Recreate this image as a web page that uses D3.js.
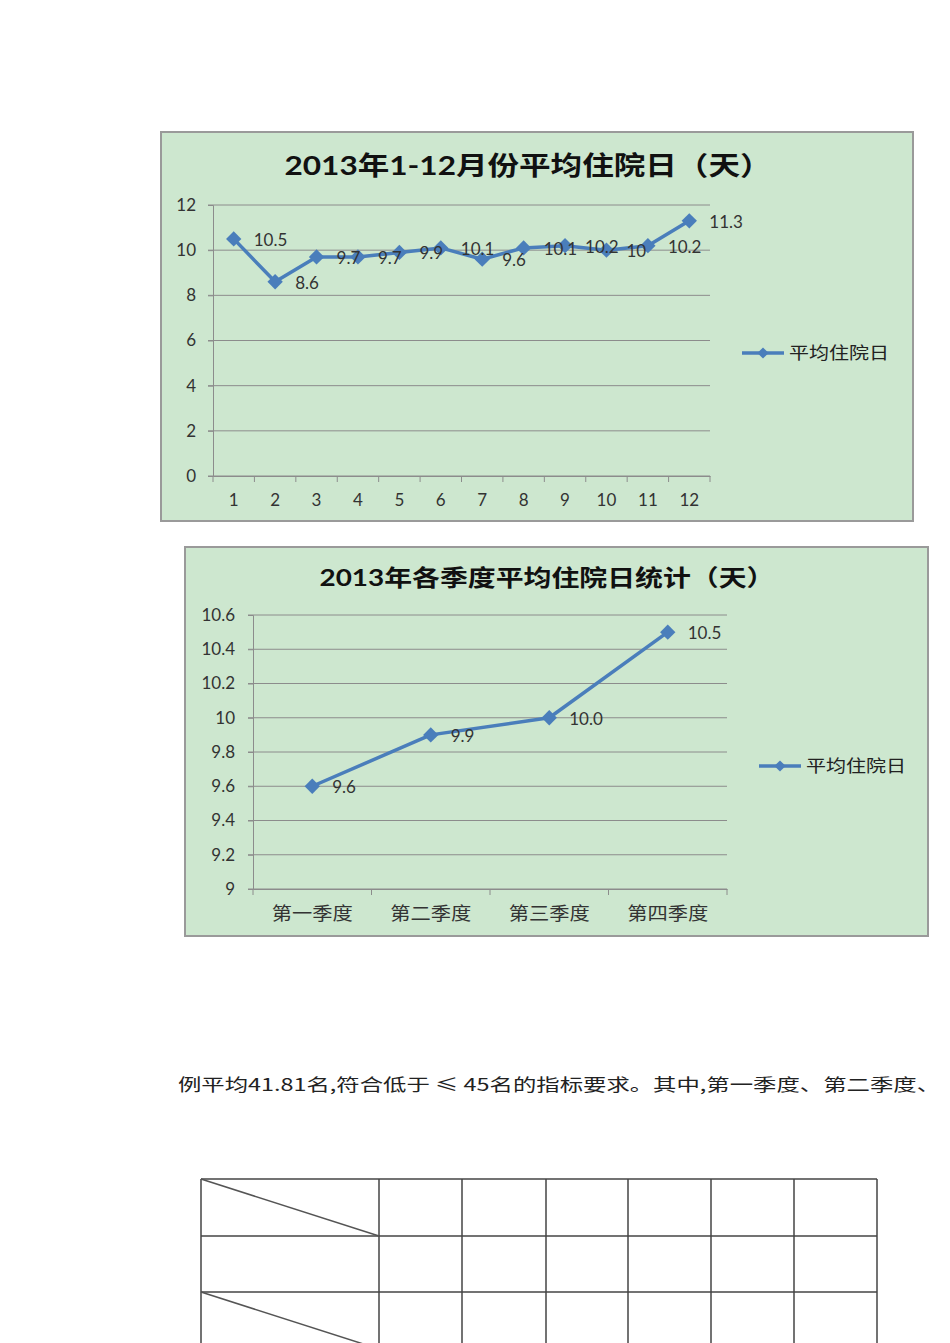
<!DOCTYPE html>
<html><head><meta charset="utf-8">
<script src="https://cdn.jsdelivr.net/npm/d3@7/dist/d3.min.js"></script>
<style>body{margin:0;background:#fff}svg{display:block}</style>
</head><body>
<svg id="s" width="950" height="1343"></svg>
<script>
const months = ["1","2","3","4","5","6","7","8","9","10","11","12"];
const monthValues = [10.5, 8.6, 9.7, 9.7, 9.9, 10.1, 9.6, 10.1, 10.2, 10.0, 10.2, 11.3];
const monthLabels = ["10.5","8.6","9.7","9.7","9.9","10.1","9.6","10.1","10.2","10","10.2","11.3"];
const monthTicks = [0, 2, 4, 6, 8, 10, 12];
const quarters = ["第一季度","第二季度","第三季度","第四季度"];
const quarterValues = [9.6, 9.9, 10.0, 10.5];
const quarterLabels = ["9.6","9.9","10.0","10.5"];
const quarterTicks = [9, 9.2, 9.4, 9.6, 9.8, 10, 10.2, 10.4, 10.6];
const quarterTickText = ["9","9.2","9.4","9.6","9.8","10","10.2","10.4","10.6"];
const seriesName = "平均住院日";
const title1 = "2013年1-12月份平均住院日（天）";
const title2 = "2013年各季度平均住院日统计（天）";
const bodyText = "例平均41.81名,符合低于 ≤ 45名的指标要求。其中,第一季度、第二季度、";

const svg = d3.select("#s");
const BG = "#cde7cf", LINE = "#4a7ebb", GRID = "#8c8c8c", TXT = "#333";
const numFont = "Lato, 'Noto Sans CJK SC', sans-serif";
const cjkFont = "'Noto Sans CJK SC', sans-serif";

function chart(o) {
  const g = svg.append("g");
  g.append("rect").attr("x", o.fx).attr("y", o.fy).attr("width", o.fw).attr("height", o.fh)
    .attr("fill", BG).attr("stroke", "#9a9a9a").attr("stroke-width", 2);
  g.append("text").attr("x", o.tx).attr("y", o.ty).attr("text-anchor", "middle")
    .attr("font-family", numFont).attr("font-weight", "bold").attr("font-size", o.tsize)
    .attr("fill", "#111").attr("textLength", o.tlen).attr("lengthAdjust", "spacingAndGlyphs").text(o.title);
  const x = d3.scaleBand().domain(o.cats).range([o.x0, o.x1]);
  const y = d3.scaleLinear().domain(o.ydom).range([o.y0, o.y1]);
  g.append("g").selectAll("line").data(o.ticks).join("line")
    .attr("x1", o.x0 - 5).attr("x2", o.x1).attr("y1", d => y(d)).attr("y2", d => y(d))
    .attr("stroke", GRID).attr("stroke-width", 1);
  const ya = d3.axisLeft(y).tickValues(o.ticks).tickSize(5).tickFormat((d, i) => o.tickText[i]);
  const yg = g.append("g").attr("transform", `translate(${o.x0},0)`).call(ya);
  yg.select(".domain").attr("stroke", GRID);
  yg.selectAll(".tick line").attr("stroke", GRID);
  yg.selectAll("text").attr("font-family", numFont).attr("font-size", o.ysize).attr("fill", TXT).attr("x", -o.ypad);
  const xa = d3.axisBottom(x).tickSize(0).tickSizeOuter(0);
  const xg = g.append("g").attr("transform", `translate(0,${o.y0})`).call(xa);
  xg.select(".domain").attr("stroke", GRID);
  xg.selectAll("text").attr("font-family", o.xfont).attr("font-size", o.xsize).attr("fill", TXT).attr("dy", o.xdy);
  if (o.xlen) xg.selectAll("text").attr("textLength", o.xlen).attr("lengthAdjust", "spacingAndGlyphs");
  const bounds = o.cats.map(c => x(c)).concat([o.x1]);
  g.append("g").selectAll("line").data(bounds).join("line")
    .attr("x1", d => d).attr("x2", d => d).attr("y1", o.y0).attr("y2", o.y0 + 6)
    .attr("stroke", GRID);
  const cx = c => x(c) + x.bandwidth() / 2;
  const line = d3.line().x((d, i) => cx(o.cats[i])).y(d => y(d));
  g.append("path").datum(o.vals).attr("d", line).attr("fill", "none")
    .attr("stroke", LINE).attr("stroke-width", 3.5).attr("stroke-linejoin", "round");
  const sym = d3.symbol().type(d3.symbolDiamond2).size(150);
  g.append("g").selectAll("path").data(o.vals).join("path")
    .attr("d", sym).attr("transform", (d, i) => `translate(${cx(o.cats[i])},${y(d)})`)
    .attr("fill", LINE);
  g.append("g").selectAll("text").data(o.vals).join("text")
    .attr("x", (d, i) => cx(o.cats[i]) + 20).attr("y", d => y(d) + 7)
    .attr("font-family", numFont).attr("font-size", o.lsize).attr("fill", TXT)
    .text((d, i) => o.labels[i]);
  g.append("line").attr("x1", o.lx).attr("x2", o.lx + 42).attr("y1", o.ly).attr("y2", o.ly)
    .attr("stroke", LINE).attr("stroke-width", 3.5);
  g.append("path").attr("d", d3.symbol().type(d3.symbolDiamond2).size(80))
    .attr("transform", `translate(${o.lx + 21},${o.ly})`).attr("fill", LINE);
  g.append("text").attr("x", o.lx + 47).attr("y", o.ly + 6).attr("font-family", cjkFont)
    .attr("font-size", 17).attr("fill", "#222").attr("textLength", 100).attr("lengthAdjust", "spacingAndGlyphs").text(seriesName);
}

chart({fx:161, fy:132, fw:752, fh:389, title:title1, tx:528, ty:175, tsize:26, tlen:487,
  cats:months, vals:monthValues, labels:monthLabels, ticks:monthTicks, tickText:monthTicks.map(String),
  x0:213, x1:710, y0:476, y1:205, ydom:[0,12], ysize:17, ypad:17, xfont:numFont, xsize:17, xdy:"1.6em",
  lsize:17, lx:742, ly:353});

chart({fx:185, fy:547, fw:743, fh:389, title:title2, tx:547, ty:586, tsize:23, tlen:455,
  cats:quarters, vals:quarterValues, labels:quarterLabels, ticks:quarterTicks, tickText:quarterTickText,
  x0:253, x1:727, y0:889, y1:615, ydom:[9,10.6], ysize:17, ypad:18, xfont:cjkFont, xsize:18, xdy:"1.55em", xlen:81,
  lsize:17, lx:759, ly:766});

svg.append("text").attr("x", 178).attr("y", 1091).attr("font-family", "'Noto Sans CJK SC', sans-serif")
  .attr("font-size", 17).attr("fill", "#222").attr("textLength", 762).attr("lengthAdjust", "spacingAndGlyphs")
  .text(bodyText);

const colX = [201, 379, 462, 546, 628, 711, 794, 877];
const rowY = [1179, 1236, 1292, 1343];
const tg = svg.append("g").attr("stroke", "#444").attr("stroke-width", 1.5);
tg.selectAll(".v").data(colX).join("line").attr("x1", d => d).attr("x2", d => d).attr("y1", rowY[0]).attr("y2", 1343);
tg.selectAll(".h").data(rowY.slice(0, 3)).join("line").attr("x1", colX[0]).attr("x2", colX[colX.length - 1]).attr("y1", d => d).attr("y2", d => d);
tg.selectAll(".d").data([0, 2]).join("line").attr("x1", colX[0]).attr("y1", d => rowY[d])
  .attr("x2", colX[1]).attr("y2", d => rowY[d] + 57).attr("stroke", "#555");
</script>
</body></html>
